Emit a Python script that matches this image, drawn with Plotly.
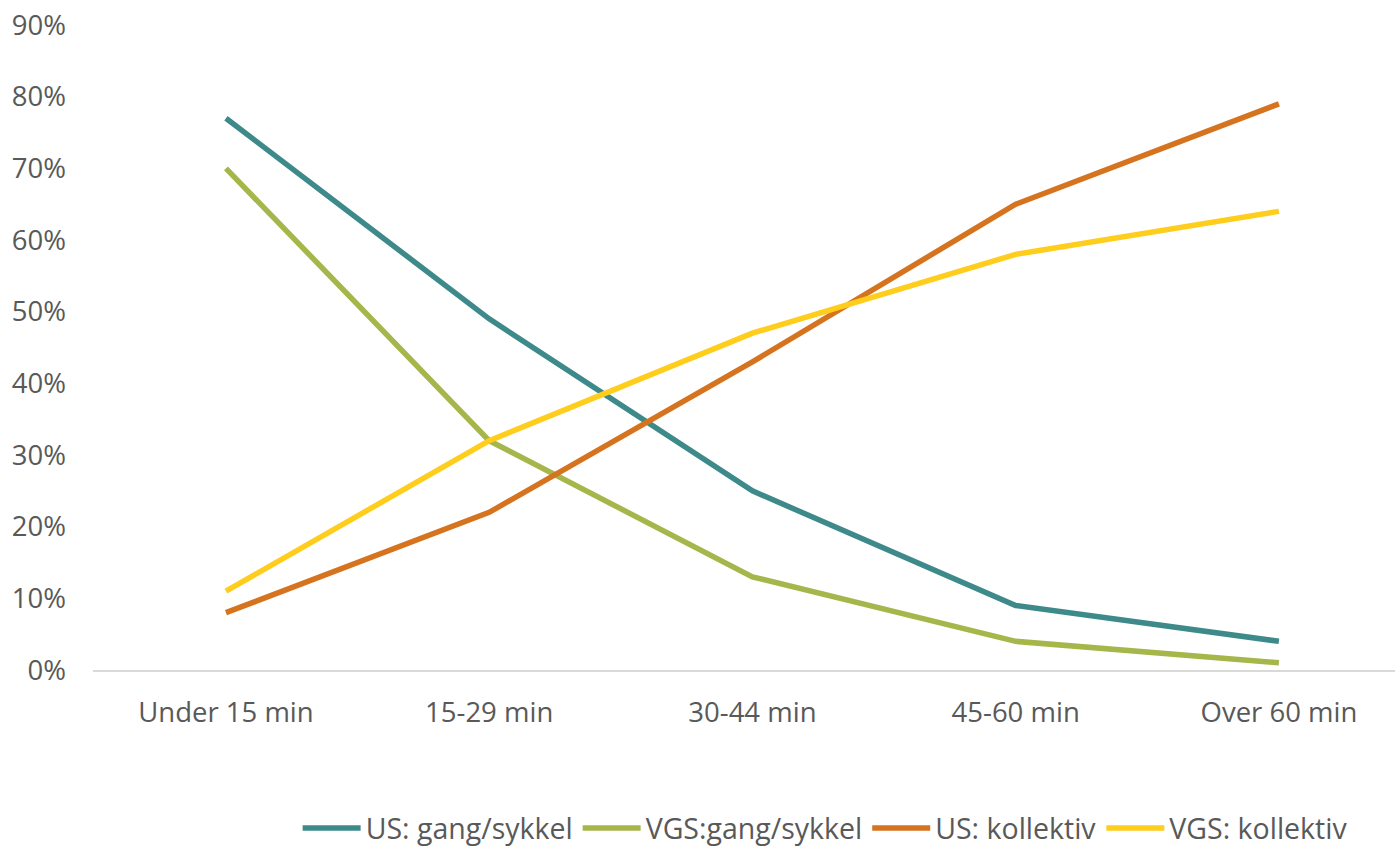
import plotly.graph_objects as go

categories = ["Under 15 min", "15-29 min", "30-44 min", "45-60 min", "Over 60 min"]
us_gang = [0.77, 0.49, 0.25, 0.09, 0.04]
vgs_gang = [0.70, 0.32, 0.13, 0.04, 0.01]
us_koll = [0.08, 0.22, 0.43, 0.65, 0.79]
vgs_koll = [0.11, 0.32, 0.47, 0.58, 0.64]
y_ticks = [0, 0.1, 0.2, 0.3, 0.4, 0.5, 0.6, 0.7, 0.8, 0.9]
y_tick_labels = ["0%", "10%", "20%", "30%", "40%", "50%", "60%", "70%", "80%", "90%"]

series = [
    ("US: gang/sykkel", us_gang, "#3E8A8B"),
    ("VGS:gang/sykkel", vgs_gang, "#A6B64B"),
    ("US: kollektiv", us_koll, "#D6731E"),
    ("VGS: kollektiv", vgs_koll, "#FFCD1C"),
]

fig = go.Figure()
for name, vals, col in series:
    fig.add_trace(go.Scatter(x=categories, y=vals, name=name, mode="lines",
                             line=dict(color=col, width=5.5)))

fig.update_layout(
    width=1395, height=848,
    margin=dict(l=93, r=0, t=25, b=178),
    paper_bgcolor="white", plot_bgcolor="white",
    font=dict(family="Open Sans", size=27.5, color="#595959"),
    showlegend=True,
    legend=dict(orientation="h", xref="container", yref="container",
                x=0.5915, xanchor="center", y=0.023, yanchor="middle",
                font=dict(size=28.5, color="#595959"), itemwidth=58, traceorder="normal"),
    xaxis=dict(showgrid=False, showline=True, linecolor="#D9D9D9", linewidth=1.5,
               ticks="", ticklabelstandoff=17, zeroline=False, range=[-0.505, 4.441],
               automargin=False, ticklabeloverflow="allow"),
    yaxis=dict(range=[0, 0.9001], tickvals=y_ticks, ticktext=y_tick_labels, showgrid=False,
               showline=False, zeroline=False, ticks="", ticklabelstandoff=26,
               automargin=False, ticklabeloverflow="allow"),
)

fig.write_html("out.html", config={"displayModeBar": False},
               post_script="document.body.style.margin='0';")
